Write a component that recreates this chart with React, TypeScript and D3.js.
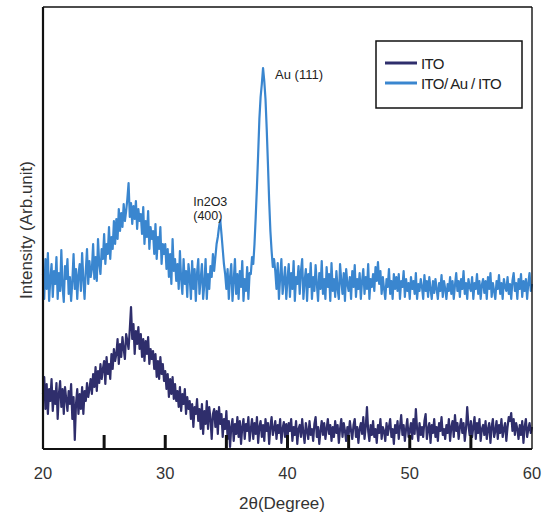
import React from 'react';
import * as d3 from 'd3';

// 2theta grid: 20.0 .. 60.0, 0.1 deg apart (one row per degree)
const thetaStart = 20;
const thetaStep = 0.1;

// ITO / Au / ITO intensity (arb. unit)
const itoAuIto = [
  175, 150, 190, 160, 196, 148, 170, 185, 152, 178,
  165, 192, 150, 176, 158, 199, 162, 147, 183, 170,
  190, 155, 172, 148, 168, 195, 160, 180, 150, 174,
  185, 158, 196, 170, 150, 178, 200, 165, 188, 172,
  180, 205, 170, 192, 168, 210, 185, 175, 200, 190,
  215, 185, 205, 195, 222, 190, 212, 200, 228, 205,
  230, 210, 240, 218, 236, 222, 245, 228, 238, 250,
  266, 232, 246, 225, 243, 230, 248, 220, 240, 228,
  235, 215, 242, 205, 228, 212, 238, 200, 222, 210,
  218, 195, 225, 190, 212, 200, 222, 185, 205, 195,
  205, 180, 200, 172, 195, 165, 210, 178, 190, 168,
  185, 160, 198, 170, 155, 190, 165, 178, 152, 185,
  172, 150, 188, 160, 180, 148, 176, 190, 155, 170,
  185, 150, 165, 190, 150, 175, 160, 183, 172, 195,
  178, 192, 205, 212, 222, 229, 215, 200, 185, 175,
  160, 180, 150, 172, 185, 148, 168, 190, 155, 175,
  150, 178, 162, 188, 148, 170, 158, 182, 150, 176,
  175, 192, 185, 205, 232, 262, 295, 330, 352, 365,
  381, 368, 350, 320, 285, 248, 218, 198, 182, 190,
  178, 160, 186, 150, 172, 190, 155, 168, 182, 150,
  170, 185, 152, 176, 160, 188, 148, 172, 165, 183,
  155, 178, 190, 150, 168, 180, 148, 175, 162, 186,
  150, 172, 158, 184, 165, 148, 176, 160, 188, 155,
  170, 150, 182, 162, 175, 148, 186, 158, 170, 152,
  178, 160, 150, 185, 168, 155, 176, 148, 180, 165,
  158, 172, 150, 178, 162, 184, 152, 170, 160, 176,
  150, 168, 180, 155, 172, 160, 185, 150, 170, 162,
  175, 158, 182, 168, 187, 165, 178, 155, 172, 160,
  150, 170, 162, 180, 155, 168, 150, 175, 160, 172,
  158, 175, 150, 168, 162, 178, 152, 170, 158, 166,
  150, 172, 160, 168, 155, 176, 150, 165, 158, 170,
  162, 150, 174, 158, 168, 152, 172, 160, 150, 168,
  156, 170, 160, 150, 166, 158, 174, 152, 168, 160,
  150, 165, 158, 172, 155, 168, 150, 164, 176, 158,
  168, 152, 170, 160, 178, 155, 166, 150, 170, 162,
  158, 172, 150, 166, 160, 175, 155, 168, 150, 164,
  170, 156, 168, 150, 172, 160, 176, 152, 166, 158,
  150, 168, 160, 174, 155, 166, 150, 170, 162, 158,
  172, 155, 165, 150, 168, 176, 158, 166, 150, 170,
  160, 175, 152, 168, 158, 170, 150, 166, 176, 158,
  165,
];

// ITO intensity (arb. unit)
const ito = [
  55, 72, 40, 65, 35, 60, 48, 70, 38, 58,
  45, 66, 30, 55, 68, 42, 60, 35, 62, 50,
  38, 58, 45, 65, 30, 52, 9, 45, 60, 35,
  55, 40, 62, 35, 58, 48, 66, 52, 60, 70,
  55, 75, 62, 82, 58, 78, 66, 85, 70, 80,
  88, 65, 92, 75, 85, 70, 95, 80, 100, 88,
  95, 110, 85, 105, 92, 112, 100, 90, 115, 108,
  100, 120, 142, 110, 125, 95, 118, 105, 122, 100,
  115, 92, 110, 88, 108, 95, 112, 85, 100, 90,
  98, 80, 95, 72, 88, 70, 92, 75, 85, 68,
  78, 60, 75, 52, 70, 55, 72, 50, 65, 48,
  58, 42, 62, 38, 55, 45, 60, 35, 52, 40,
  48, 30, 45, 22, 42, 35, 50, 28, 40, 20,
  45, 15, 38, 25, 48, 20, 42, 30, 10, 35,
  40, 22, 38, 15, 42, 25, 35, 12, 30, 20,
  38, 10, 28, 2, 22, 30, 8, 25, 15, 32,
  12, 28, 5, 22, 30, 10, 25, 18, 32, 8,
  20, 30, 10, 26, 15, 32, 6, 22, 28, 12,
  24, 8, 30, 18, 26, 5, 22, 32, 14, 20,
  28, 10, 24, 16, 30, 6, 20, 27, 12, 25,
  10, 26, 18, 30, 8, 22, 14, 28, 5, 20,
  24, 12, 30, 16, 6, 26, 18, 10, 28, 14,
  20, 8, 25, 32, 12, 22, 5, 18, 28, 14,
  26, 10, 20, 30, 15, 24, 8, 22, 12, 28,
  16, 24, 6, 20, 30, 12, 26, 18, 8, 22,
  14, 28, 18, 10, 24, 30, 12, 22, 6, 20,
  26, 15, 32, 10, 22, 42, 18, 8, 24, 14,
  28, 12, 20, 6, 24, 16, 30, 10, 22, 18,
  8, 26, 14, 22, 30, 12, 20, 5, 24, 16,
  28, 10, 22, 34, 14, 24, 8, 20, 30, 12,
  18, 26, 10, 30, 15, 40, 20, 8, 26, 14,
  22, 12, 28, 35, 10, 20, 26, 6, 24, 16,
  30, 12, 22, 8, 26, 18, 32, 14, 20, 10,
  24, 16, 30, 8, 22, 28, 12, 34, 18, 26,
  10, 22, 30, 16, 26, 8, 20, 42, 24, 14,
  28, 12, 22, 32, 10, 26, 16, 30, 8, 20,
  24, 14, 28, 10, 20, 26, 6, 22, 30, 12,
  18, 28, 10, 24, 16, 30, 12, 20, 26, 8,
  22, 32, 28, 36, 18, 30, 14, 26, 20, 10,
  24, 14, 28, 6, 22, 30, 12, 20, 26, 16,
  22,
];

const seriesNames = ['ITO', 'ITO/ Au / ITO'];
const seriesColors = ['#2f2e6c', '#3a86cf'];
const minorTicks = [25, 30, 35, 40, 45, 50, 55];
const tickLabels = [20, 30, 40, 50, 60];
const peakLabels = [
  { lines: ['Au (111)'], theta: 38.0, value: 381 },
  { lines: ['In2O3', '(400)'], theta: 34.5, value: 229 },
];

const W = 548, H = 515;
const margin = { top: 7, right: 16, bottom: 66, left: 43 };
const font = 'Arial, "Liberation Sans", Helvetica, sans-serif';

export default function App() {
  const x = d3.scaleLinear().domain([20, 60]).range([margin.left, W - margin.right]);
  const y = d3.scaleLinear().domain([0, 442]).range([H - margin.bottom, margin.top]);

  const toPoints = (vals: number[]) => vals.map((v, i) => [thetaStart + i * thetaStep, v] as [number, number]);
  const line = d3.line<[number, number]>().x(d => x(d[0])).y(d => y(d[1]));

  const x0 = x(20), x1 = x(60), yb = y(0), yt = margin.top;

  return (
    <svg width={W} height={H} style={{ position: 'absolute', left: 0, top: 0, background: '#fff' }}
      fontFamily={font}>
      <rect x={0} y={0} width={W} height={H} fill="#fff" />

      <path d={line(toPoints(itoAuIto)) || ''} fill="none" stroke={seriesColors[1]} strokeWidth={2.2}
        strokeLinejoin="round" />
      <path d={line(toPoints(ito)) || ''} fill="none" stroke={seriesColors[0]} strokeWidth={2.2}
        strokeLinejoin="round" />

      {/* frame */}
      <line x1={x0} x2={x1} y1={yt} y2={yt} stroke="#111" strokeWidth={1.6} />
      <line x1={x1} x2={x1} y1={yt} y2={yb} stroke="#111" strokeWidth={1.4} />
      <line x1={x0} x2={x0} y1={yt} y2={yb} stroke="#111" strokeWidth={2.2} />
      <line x1={x0} x2={x1} y1={yb} y2={yb} stroke="#111" strokeWidth={2.2} />

      {minorTicks.map(t => (
        <line key={t} x1={x(t)} x2={x(t)} y1={yb} y2={yb - 14} stroke="#111" strokeWidth={3} />
      ))}
      {tickLabels.map(t => (
        <text key={t} x={x(t)} y={479} textAnchor="middle" fontSize={16.5} fill="#333">{t}</text>
      ))}

      <text x={282} y={509} textAnchor="middle" fontSize={17} fill="#333">2θ(Degree)</text>
      <text transform="translate(32,230) rotate(-90)" textAnchor="middle" fontSize={17} fill="#333">
        Intensity (Arb.unit)
      </text>

      {/* peak labels */}
      <text x={x(peakLabels[0].theta) + 12} y={y(peakLabels[0].value) + 11} fontSize={13} fill="#222">
        {peakLabels[0].lines[0]}
      </text>
      <text x={x(peakLabels[1].theta) - 27} y={y(peakLabels[1].value) - 14} fontSize={12.5} fill="#222">
        <tspan x={x(peakLabels[1].theta) - 27}>{peakLabels[1].lines[0]}</tspan>
        <tspan x={x(peakLabels[1].theta) - 27} dy={14}>{peakLabels[1].lines[1]}</tspan>
      </text>

      {/* legend */}
      <rect x={376} y={41} width={146} height={67} fill="#fff" stroke="#111" strokeWidth={1.5} />
      {seriesNames.map((name, i) => (
        <g key={name}>
          <line x1={385} x2={417} y1={63 + i * 20} y2={63 + i * 20} stroke={seriesColors[i]} strokeWidth={3} />
          <text x={421} y={68.5 + i * 20} fontSize={15} fill="#222" letterSpacing={-0.6}>{name}</text>
        </g>
      ))}
    </svg>
  );
}
